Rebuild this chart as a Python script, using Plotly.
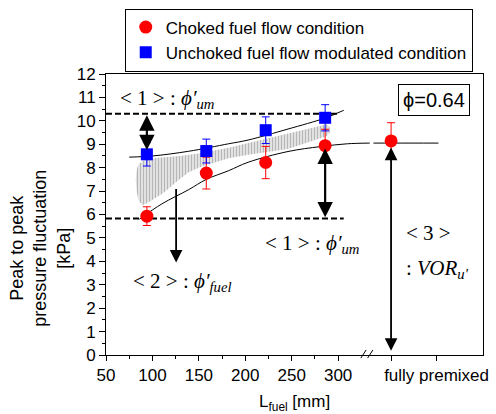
import plotly.graph_objects as go

# ---------------- data ----------------
choked_x = [94, 158, 222, 286, 357]
choked_y = [5.93, 7.77, 8.22, 8.94, 9.14]
choked_err = [0.40, 0.68, 0.69, 0.70, 0.78]

unchoked_x = [94, 158, 222, 286]
unchoked_y = [8.57, 8.71, 9.60, 10.13]
unchoked_err = [0.50, 0.51, 0.57, 0.56]

# fitted trend curves
upper_fit_x = [75, 100, 139, 182, 203, 246, 286, 306]
upper_fit_y = [8.45, 8.50, 8.70, 9.02, 9.18, 9.65, 10.12, 10.45]
lower_fit_x = [86, 110, 139, 158, 182, 203, 246, 281, 310, 334, None, 338, 360, 408]
lower_fit_y = [5.80, 6.45, 7.06, 7.50, 7.87, 8.23, 8.69, 8.90, 9.02, 9.05, None, 9.05, 9.05, 9.05]

# hatched band (outline)
band_x = [83, 85, 90, 100, 130, 150, 182, 203, 246, 270, 288, 291, 291, 288, 246, 203,
          182, 153, 139, 129, 111, 95, 89, 85, 83, 82, 83]
band_y = [7.90, 8.15, 8.30, 8.40, 8.50, 8.60, 8.85, 9.05, 9.45, 9.68, 9.85, 9.72, 9.50,
          9.35, 8.80, 8.55, 8.40, 8.05, 7.80, 7.50, 6.90, 6.50, 6.40, 6.60, 7.00, 7.50, 7.90]

# reference dashed levels
dash_hi_x = [50, 300]
dash_hi_y = [10.30, 10.30]
dash_lo_x = [50, 306]
dash_lo_y = [5.83, 5.83]

x_tickvals = [50, 100, 150, 200, 250, 300, 357, 406]
x_ticktext = ["50", "100", "150", "200", "250", "300", "", "fully premixed"]
y_tickvals = list(range(0, 13))

SANS = "Liberation Sans, Arial, sans-serif"
SERIF = "Liberation Serif, Times New Roman, serif"
PHI = "\u03d5"

fig = go.Figure()

fig.add_trace(go.Scatter(
    x=band_x, y=band_y, mode="lines", fill="toself",
    line=dict(width=0, color="rgba(0,0,0,0)"),
    fillcolor="#e2e2e2",
    fillpattern=dict(shape="|", fgcolor="#8a8a8a", bgcolor="#e2e2e2", size=3, solidity=0.35),
    showlegend=False, hoverinfo="skip"))

fig.add_trace(go.Scatter(x=upper_fit_x, y=upper_fit_y, mode="lines",
                         line=dict(color="black", width=1, shape="spline"),
                         showlegend=False, hoverinfo="skip"))
fig.add_trace(go.Scatter(x=lower_fit_x, y=lower_fit_y, mode="lines",
                         line=dict(color="black", width=1, shape="spline"),
                         showlegend=False, hoverinfo="skip", connectgaps=False))

for dx, dy in [(dash_hi_x, dash_hi_y), (dash_lo_x, dash_lo_y)]:
    fig.add_trace(go.Scatter(x=dx, y=dy, mode="lines",
                             line=dict(color="black", width=2, dash="6px,3px"),
                             showlegend=False, hoverinfo="skip"))

fig.add_trace(go.Scatter(
    x=choked_x, y=choked_y, mode="markers", name="Choked fuel flow condition",
    marker=dict(symbol="circle", size=13, color="#ff0000"),
    error_y=dict(type="data", array=choked_err, color="#ff0000", thickness=1, width=4)))
fig.add_trace(go.Scatter(
    x=unchoked_x, y=unchoked_y, mode="markers", name="Unchoked fuel flow modulated condition",
    marker=dict(symbol="square", size=12, color="#0000ff"),
    error_y=dict(type="data", array=unchoked_err, color="#0000ff", thickness=1, width=4)))

# arrows
def arrow(x, y_tail, y_head, width=2.2, both=False):
    fig.add_annotation(x=x, y=y_head, ax=x, ay=y_tail, xref="x", yref="y",
                       axref="x", ayref="y", text="", showarrow=True,
                       arrowhead=2, arrowsize=1.4, arrowwidth=width, arrowcolor="black",
                       arrowside="end+start" if both else "end",
                       startarrowhead=2, startarrowsize=1.4, standoff=0, startstandoff=0)

arrow(94, 10.30, 8.75, both=True)
arrow(286, 8.88, 5.88, both=True)
arrow(125.5, 7.15, 3.95, width=1.8)
arrow(357, 8.92, 0.18, width=1.8, both=True)

def label(x, y, txt, size=21):
    fig.add_annotation(x=x, y=y, xref="x", yref="y", text=txt, showarrow=False,
                       font=dict(family=SERIF, size=size, color="black"),
                       xanchor="center", yanchor="middle")

label(116, 10.95, f"&lt; 1 &gt; : <i>{PHI}′</i><sub><i>um</i></sub>")
label(272, 4.75, f"&lt; 1 &gt; : <i>{PHI}′</i><sub><i>um</i></sub>")
label(132, 3.10, f"&lt; 2 &gt; : <i>{PHI}′</i><sub><i>fuel</i></sub>")
label(397, 5.21, "&lt; 3 &gt;")
label(407, 3.69, ": <i>VOR</i><sub><i>u'</i></sub>")

fig.add_annotation(x=403.7, y=10.87, xref="x", yref="y", text=f"{PHI}=0.64", showarrow=False,
                   font=dict(family=SANS, size=20, color="black"),
                   bordercolor="black", borderwidth=1, borderpad=4, bgcolor="white",
                   xanchor="center", yanchor="middle")

# axis titles
fig.add_annotation(x=-0.1728, y=0.381, xref="paper", yref="paper", textangle=-90,
                   text="Peak to peak<br>pressure fluctuation<br>[kPa]", showarrow=False,
                   font=dict(family=SANS, size=18, color="black"),
                   xanchor="center", yanchor="middle")
fig.add_annotation(x=0.5, y=-0.17, xref="paper", yref="paper",
                   text="L<sub>fuel</sub> [mm]", showarrow=False,
                   font=dict(family=SANS, size=17, color="black"),
                   xanchor="center", yanchor="middle")

# axis break marks
for x0 in [0.676, 0.694]:
    fig.add_shape(type="line", xref="paper", yref="paper",
                  x0=x0, y0=-0.011, x1=x0 + 0.014, y1=0.018,
                  line=dict(color="black", width=1))

fig.update_xaxes(range=[50, 456], tickvals=x_tickvals, ticktext=x_ticktext,
                 ticks="outside", ticklen=5, tickwidth=1, tickcolor="black",
                 showline=True, linecolor="black", linewidth=1, mirror=True,
                 showgrid=False, zeroline=False,
                 tickfont=dict(family=SANS, size=17, color="black"),
                 minor=dict(tickvals=[75, 125, 175, 225, 275], ticks="outside",
                            ticklen=3, tickcolor="black"))
fig.update_yaxes(range=[0, 12], tickvals=y_tickvals,
                 ticks="outside", ticklen=6, tickwidth=1, tickcolor="black",
                 showline=True, linecolor="black", linewidth=1, mirror=True,
                 showgrid=False, zeroline=False,
                 tickfont=dict(family=SANS, size=17, color="black"),
                 minor=dict(dtick=0.5, ticks="outside", ticklen=3, tickcolor="black"))

fig.update_layout(
    width=496, height=414,
    margin=dict(l=106, r=8, t=72, b=59),
    paper_bgcolor="white", plot_bgcolor="white",
    showlegend=True,
    legend=dict(x=0.0497, y=1.233, xanchor="left", yanchor="top",
                bordercolor="black", borderwidth=1, bgcolor="white",
                font=dict(family=SANS, size=17, color="black")),
)

fig.write_html("out.html")
